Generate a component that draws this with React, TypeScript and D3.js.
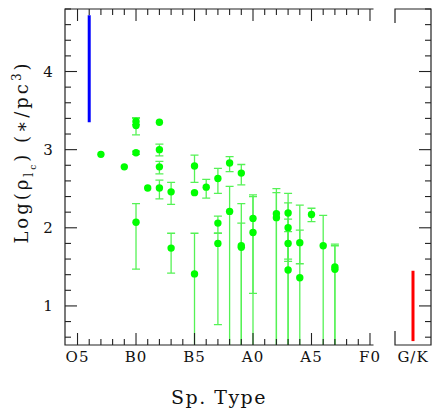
import React, { useEffect, useRef } from 'react';
import * as d3 from 'd3';

// Spectral subtype index: O5 = 0, B0 = 5, B5 = 10, A0 = 15, A5 = 20, F0 = 25
const spTickValues = [0, 5, 10, 15, 20, 25];
const spTickLabels = ['O5', 'B0', 'B5', 'A0', 'A5', 'F0'];
const logTicks = [1, 2, 3, 4];

const starSub = [2, 4, 5, 5, 5, 5, 6, 7, 7, 7, 7, 8, 8, 10, 10, 10, 11, 12, 12, 12, 13, 13, 14, 14, 14, 15, 15, 17, 17, 18, 18, 18, 18, 19, 19, 20, 21, 22, 22];
const starLogRho = [2.94, 2.78, 3.36, 3.31, 2.96, 2.07, 2.51, 3.35, 3.0, 2.78, 2.51, 2.46, 1.74, 2.79, 2.45, 1.41, 2.52, 2.63, 2.06, 1.8, 2.83, 2.21, 2.7, 1.77, 1.75, 2.12, 1.94, 2.18, 2.13, 2.19, 2.0, 1.8, 1.46, 1.81, 1.36, 2.17, 1.77, 1.5, 1.47];
const errLow = [null, null, 3.32, 3.19, 2.94, 1.47, null, null, 2.92, 2.69, 2.37, 2.3, 1.42, 2.58, null, 0.3, 2.38, 2.44, 1.93, 0.76, 2.72, 0.3, 2.55, 0.3, 0.3, 0.3, 1.16, 0.3, 0.3, 0.3, 1.57, 1.6, 0.3, 1.54, 0.3, 2.08, 0.3, 0.3, 0.3];
const errHigh = [null, null, 3.41, 3.4, 2.98, 2.31, null, null, 3.07, 2.85, 2.61, 2.58, 1.93, 2.93, null, 1.93, 2.62, 2.76, 2.15, 1.93, 2.91, 2.53, 2.81, 2.06, 2.31, 2.42, 2.4, 2.5, 2.45, 2.44, 2.32, 2.11, 1.95, 2.29, 1.97, 2.25, 2.16, 1.79, 1.77];

// O-star range (blue) and G/K range (red)
const oRange = { sub: 1, lo: 3.35, hi: 4.72 };
const gkRange = { lo: 0.55, hi: 1.45 };

const W = 433;
const H = 409;
const FONT = '"DejaVu Serif", serif';

const App = () => {
  const svgRef = useRef<SVGSVGElement>(null);

  useEffect(() => {
    const svg = d3.select(svgRef.current).attr('width', W).attr('height', H);
    svg.selectAll('*').remove();
    svg.append('rect').attr('width', W).attr('height', H).attr('fill', 'white');

    const x = d3.scaleLinear().domain([-1.07, 25.3]).range([65, 373.5]);
    const y = d3.scaleLinear().domain([0.5, 4.8]).range([345, 9]);
    const xr = d3.scaleLinear().domain([0, 1]).range([395, 431]);

    const [left, right] = x.range();
    const [bottom, top] = y.range();

    svg
      .append('clipPath')
      .attr('id', 'main-clip')
      .append('rect')
      .attr('x', left)
      .attr('y', top)
      .attr('width', right - left)
      .attr('height', bottom - top);

    const plot = svg.append('g').attr('clip-path', 'url(#main-clip)');

    // error bars
    const idx = d3.range(starSub.length).filter((i) => errLow[i] != null);
    const eb = plot.append('g').attr('stroke', '#55f255').attr('stroke-width', 1.3);
    idx.forEach((i) => {
      const cx = x(starSub[i]);
      const y1 = y(errLow[i] as number);
      const y2 = y(errHigh[i] as number);
      eb.append('line').attr('x1', cx).attr('x2', cx).attr('y1', y1).attr('y2', y2);
      eb.append('line').attr('x1', cx - 4).attr('x2', cx + 4).attr('y1', y1).attr('y2', y1);
      eb.append('line').attr('x1', cx - 4).attr('x2', cx + 4).attr('y1', y2).attr('y2', y2);
    });

    plot
      .append('g')
      .selectAll('circle')
      .data(d3.range(starSub.length))
      .enter()
      .append('circle')
      .attr('cx', (i) => x(starSub[i]))
      .attr('cy', (i) => y(starLogRho[i]))
      .attr('r', 3.7)
      .attr('fill', '#00ff00');

    plot
      .append('line')
      .attr('x1', x(oRange.sub))
      .attr('x2', x(oRange.sub))
      .attr('y1', y(oRange.lo))
      .attr('y2', y(oRange.hi))
      .attr('stroke', '#0000ff')
      .attr('stroke-width', 3);

    svg
      .append('line')
      .attr('x1', xr(0.5))
      .attr('x2', xr(0.5))
      .attr('y1', y(gkRange.lo))
      .attr('y2', y(gkRange.hi))
      .attr('stroke', '#ff0000')
      .attr('stroke-width', 3);

    // frames
    const frame = svg.append('g').attr('stroke', '#222').attr('stroke-width', 1.2).attr('fill', 'none');
    frame.append('path').attr('d', `M${right},${top}H${left}V${bottom}H${right}`);
    const [rl, rr] = xr.range();
    frame.append('path').attr('d', `M${rl},${top + 14}V${top}H${rr}V${bottom}H${rl}V${bottom - 14}`);

    // ticks
    const subTicks = d3.range(0, 26);
    const minorY = d3.range(0.6, 4.81, 0.2).map((v) => +v.toFixed(1));
    const tk = svg.append('g').attr('stroke', '#222').attr('stroke-width', 1.1);
    subTicks.forEach((v) => {
      const len = v % 5 === 0 ? 12 : 6;
      const px = x(v);
      tk.append('line').attr('x1', px).attr('x2', px).attr('y1', bottom).attr('y2', bottom - len);
      tk.append('line').attr('x1', px).attr('x2', px).attr('y1', top).attr('y2', top + len);
    });
    minorY.forEach((v) => {
      const len = Math.abs(v - Math.round(v)) < 1e-6 ? 12 : 6;
      const py = y(v);
      tk.append('line').attr('x1', left).attr('x2', left + len).attr('y1', py).attr('y2', py);
      tk.append('line').attr('x1', rr).attr('x2', rr - len).attr('y1', py).attr('y2', py);
    });

    // tick labels
    const lab = svg.append('g').attr('font-family', FONT).attr('font-size', 15).attr('fill', '#111');
    spTickValues.forEach((v, i) => {
      lab
        .append('text')
        .attr('x', x(v))
        .attr('y', 362)
        .attr('text-anchor', 'middle')
        .attr('letter-spacing', 1)
        .text(spTickLabels[i]);
    });
    lab
      .append('text')
      .attr('x', xr(0.5))
      .attr('y', 362)
      .attr('text-anchor', 'middle')
      .attr('letter-spacing', 1)
      .text('G/K');
    logTicks.forEach((v) => {
      lab
        .append('text')
        .attr('x', 48)
        .attr('y', y(v))
        .attr('dy', '0.35em')
        .attr('text-anchor', 'middle')
        .text(v);
    });

    // axis titles
    svg
      .append('text')
      .attr('x', 219)
      .attr('y', 404)
      .attr('text-anchor', 'middle')
      .attr('font-family', FONT)
      .attr('font-size', 19)
      .attr('letter-spacing', 1.5)
      .attr('fill', '#111')
      .text('Sp. Type');

    const yl = svg
      .append('text')
      .attr('transform', `translate(28,${152}) rotate(-90)`)
      .attr('text-anchor', 'middle')
      .attr('font-family', FONT)
      .attr('font-size', 18)
      .attr('letter-spacing', 3)
      .attr('fill', '#111');
    yl.append('tspan').text('Log(ρ');
    yl.append('tspan').attr('font-size', 12).attr('dy', 5).text('l');
    yl.append('tspan').attr('font-size', 9).attr('dy', 3).text('c');
    yl.append('tspan').attr('dy', -8).text(')  (∗/pc');
    yl.append('tspan').attr('font-size', 12).attr('dy', -7).text('3');
    yl.append('tspan').attr('dy', 7).text(')');
  }, []);

  return <svg ref={svgRef} style={{ position: 'absolute', left: 0, top: 0, display: 'block' }} />;
};

export default App;
